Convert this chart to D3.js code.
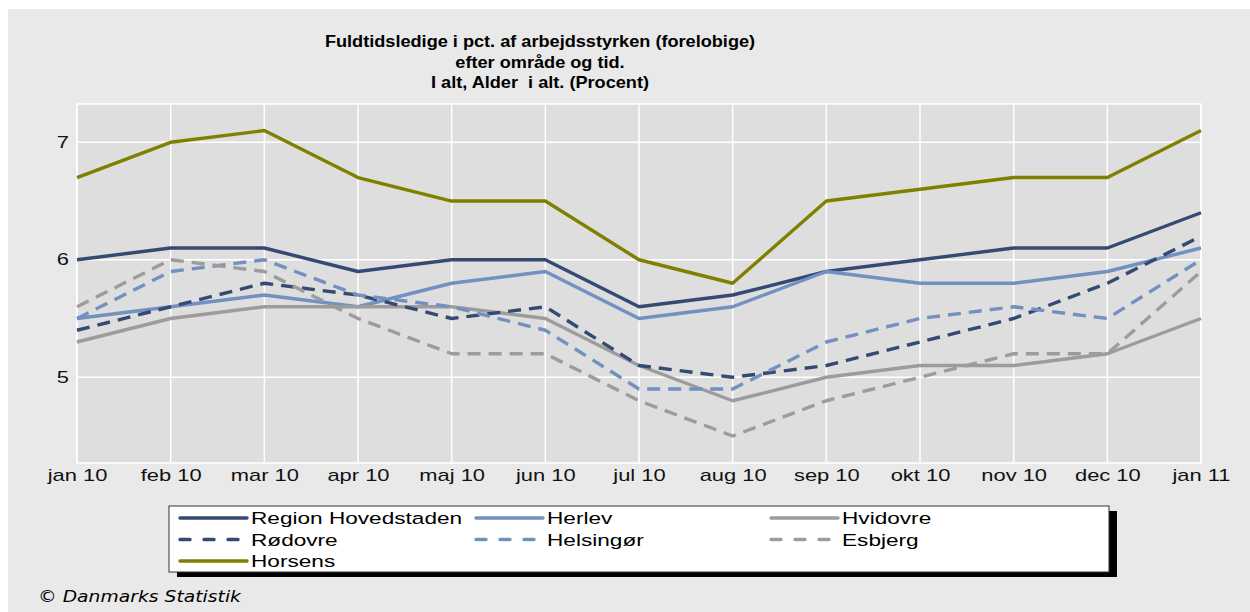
<!DOCTYPE html>
<html><head><meta charset="utf-8">
<script src="https://cdn.jsdelivr.net/npm/d3@7"></script>
<style>html,body{margin:0;padding:0;background:#fff;}svg{display:block;}</style>
</head><body>
<script>
const months = ["jan 10","feb 10","mar 10","apr 10","maj 10","jun 10","jul 10","aug 10","sep 10","okt 10","nov 10","dec 10","jan 11"];
const yTicks = [5, 6, 7];
const titleLines = ["Fuldtidsledige i pct. af arbejdsstyrken (forelobige)", "efter område og tid.", "I alt, Alder  i alt. (Procent)"];
const seriesNames = ["Region Hovedstaden","Herlev","Hvidovre","Rødovre","Helsingør","Esbjerg","Horsens"];
const regionHovedstaden = [6.0,6.1,6.1,5.9,6.0,6.0,5.6,5.7,5.9,6.0,6.1,6.1,6.4];
const herlev            = [5.5,5.6,5.7,5.6,5.8,5.9,5.5,5.6,5.9,5.8,5.8,5.9,6.1];
const hvidovre          = [5.3,5.5,5.6,5.6,5.6,5.5,5.1,4.8,5.0,5.1,5.1,5.2,5.5];
const rodovre           = [5.4,5.6,5.8,5.7,5.5,5.6,5.1,5.0,5.1,5.3,5.5,5.8,6.2];
const helsingor         = [5.5,5.9,6.0,5.7,5.6,5.4,4.9,4.9,5.3,5.5,5.6,5.5,6.0];
const esbjerg           = [5.6,6.0,5.9,5.5,5.2,5.2,4.8,4.5,4.8,5.0,5.2,5.2,5.9];
const horsens           = [6.7,7.0,7.1,6.7,6.5,6.5,6.0,5.8,6.5,6.6,6.7,6.7,7.1];
const footer = "© Danmarks Statistik";

const seriesValues = [regionHovedstaden, herlev, hvidovre, rodovre, helsingor, esbjerg, horsens];
const styles = [
  {c:"#344a72", d:null},
  {c:"#7290c0", d:null},
  {c:"#9c9c9c", d:null},
  {c:"#344a72", d:"13,8"},
  {c:"#7290c0", d:"13,8"},
  {c:"#9c9c9c", d:"13,8"},
  {c:"#808000", d:null}
];

const W = 1250, H = 612;
const FONT = "Liberation Sans, Arial, sans-serif";
const svg = d3.select("body").append("svg").attr("width", W).attr("height", H);

svg.append("rect").attr("x", 0).attr("y", 0).attr("width", W).attr("height", H).attr("fill", "#fff");
svg.append("rect").attr("x", 8).attr("y", 9).attr("width", W - 8).attr("height", H - 9).attr("fill", "#e9e9e9");

// title
svg.append("g").selectAll("text").data(titleLines).join("text")
  .attr("transform", (d, i) => `translate(540,${47 + i * 20.5}) scale(1.1,1)`)
  .attr("text-anchor", "middle")
  .style("white-space", "pre")
  .attr("font-family", FONT)
  .attr("font-weight", "bold").attr("font-size", 16.5).attr("fill", "#000")
  .text(d => d);

const L = 77, R = 1201, T = 104, B = 463;
const x = d3.scalePoint().domain(months).range([L, R]);
const y = d3.scaleLinear().domain([4.27, 7.326]).range([B, T]);

svg.append("rect").attr("x", L).attr("y", T).attr("width", R - L).attr("height", B - T)
  .attr("fill", "#dedede").attr("stroke", "#fff").attr("stroke-width", 1.5);

svg.append("g").selectAll("line").data(months).join("line")
  .attr("x1", d => x(d)).attr("x2", d => x(d)).attr("y1", T).attr("y2", B)
  .attr("stroke", "#fff").attr("stroke-width", 1.5);
svg.append("g").selectAll("line").data(yTicks).join("line")
  .attr("x1", L).attr("x2", R).attr("y1", d => y(d)).attr("y2", d => y(d))
  .attr("stroke", "#fff").attr("stroke-width", 1.5);

const xAxis = svg.append("g").attr("transform", `translate(0,${B + 3})`)
  .call(d3.axisBottom(x).tickSize(0).tickPadding(4));
xAxis.select(".domain").remove();
xAxis.selectAll("text").attr("font-family", FONT).attr("font-size", 16).attr("fill", "#111")
  .attr("transform", "scale(1.37,1)");

const yAxis = svg.append("g").attr("transform", `translate(${L - 4},0)`)
  .call(d3.axisLeft(y).tickValues(yTicks).tickSize(0).tickPadding(3).tickFormat(d3.format("d")));
yAxis.select(".domain").remove();
yAxis.selectAll("text").attr("font-family", FONT).attr("font-size", 16).attr("fill", "#111")
  .attr("transform", "scale(1.37,1)");

const line = d3.line().x((d, i) => x(months[i])).y(d => y(d));
svg.append("g").selectAll("path").data(seriesValues).join("path")
  .attr("d", d => line(d))
  .attr("fill", "none")
  .attr("stroke", (d, i) => styles[i].c)
  .attr("stroke-width", 3.4)
  .attr("stroke-linejoin", "round")
  .attr("stroke-dasharray", (d, i) => styles[i].d);

// legend
const lgX = 169, lgY = 506, lgW = 940, lgH = 66;
svg.append("rect").attr("x", lgX + 8).attr("y", lgY + 5).attr("width", lgW).attr("height", lgH).attr("fill", "#000");
svg.append("rect").attr("x", lgX).attr("y", lgY).attr("width", lgW).attr("height", lgH).attr("fill", "#fff").attr("stroke", "#333").attr("stroke-width", 1);
const colX = [179, 475, 770];
const legend = svg.append("g").selectAll("g").data(seriesNames).join("g")
  .attr("transform", (d, i) => `translate(${colX[i % 3]},${518 + Math.floor(i / 3) * 21.5})`);
legend.append("line").attr("x1", 1).attr("x2", 68).attr("y1", 0).attr("y2", 0)
  .attr("stroke", (d, i) => styles[i].c).attr("stroke-width", 3.4).attr("stroke-linecap", "round")
  .attr("stroke-dasharray", (d, i) => styles[i].d ? "10,14" : null);
legend.append("text").attr("transform", "translate(72,0) scale(1.33,1)").attr("dy", "0.36em")
  .attr("font-family", FONT).attr("font-size", 17).attr("fill", "#000")
  .text(d => d);

// footer
svg.append("text").attr("transform", "translate(38,602) scale(1.25,1)")
  .attr("font-family", "DejaVu Sans, sans-serif").attr("font-style", "italic").attr("font-size", 15).attr("fill", "#000")
  .text(footer);
</script>
</body></html>
